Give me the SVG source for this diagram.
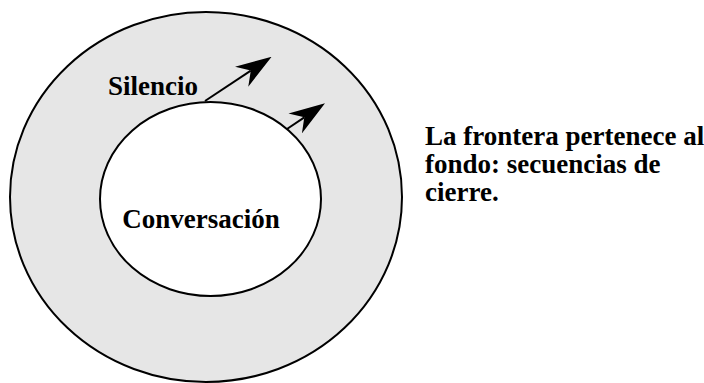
<svg xmlns="http://www.w3.org/2000/svg" width="704" height="383" viewBox="0 0 704 383">
  <style>
    .ring { stroke: #000; stroke-width: 2; }
    .lbl { font-family: "Liberation Serif", "Times New Roman", serif; font-weight: bold; font-size: 27px; fill: #000; }
    .conn { stroke: #000; stroke-width: 2; fill: none; }
  </style>
  <defs>
    <marker id="arr" viewBox="0 0 36 24" refX="11" refY="12" markerWidth="36" markerHeight="24" markerUnits="userSpaceOnUse" orient="auto">
      <path d="M0,0 L36,12 L0,24 L11,12 Z" fill="#000"/>
    </marker>
  </defs>
  <rect width="704" height="383" fill="#fff"/>
  <g id="silencio">
    <ellipse class="ring" cx="206" cy="197" rx="196" ry="185" fill="#e6e6e6"/>
    <text class="lbl" x="108" y="95">Silencio</text>
  </g>
  <g id="conversacion">
    <ellipse class="ring" cx="210.5" cy="199" rx="110.5" ry="97" fill="#fff"/>
    <text class="lbl" x="201" y="228" text-anchor="middle">Conversación</text>
  </g>
  <g id="connectors">
    <line class="conn" x1="205" y1="101" x2="250.8" y2="70.6" marker-end="url(#arr)"/>
    <line class="conn" x1="287" y1="129" x2="304.3" y2="117.3" marker-end="url(#arr)"/>
  </g>
  <g id="nota">
    <text class="lbl" x="425" y="145">La frontera pertenece al</text>
    <text class="lbl" x="425" y="173">fondo: secuencias de</text>
    <text class="lbl" x="425" y="201">cierre.</text>
  </g>
</svg>
